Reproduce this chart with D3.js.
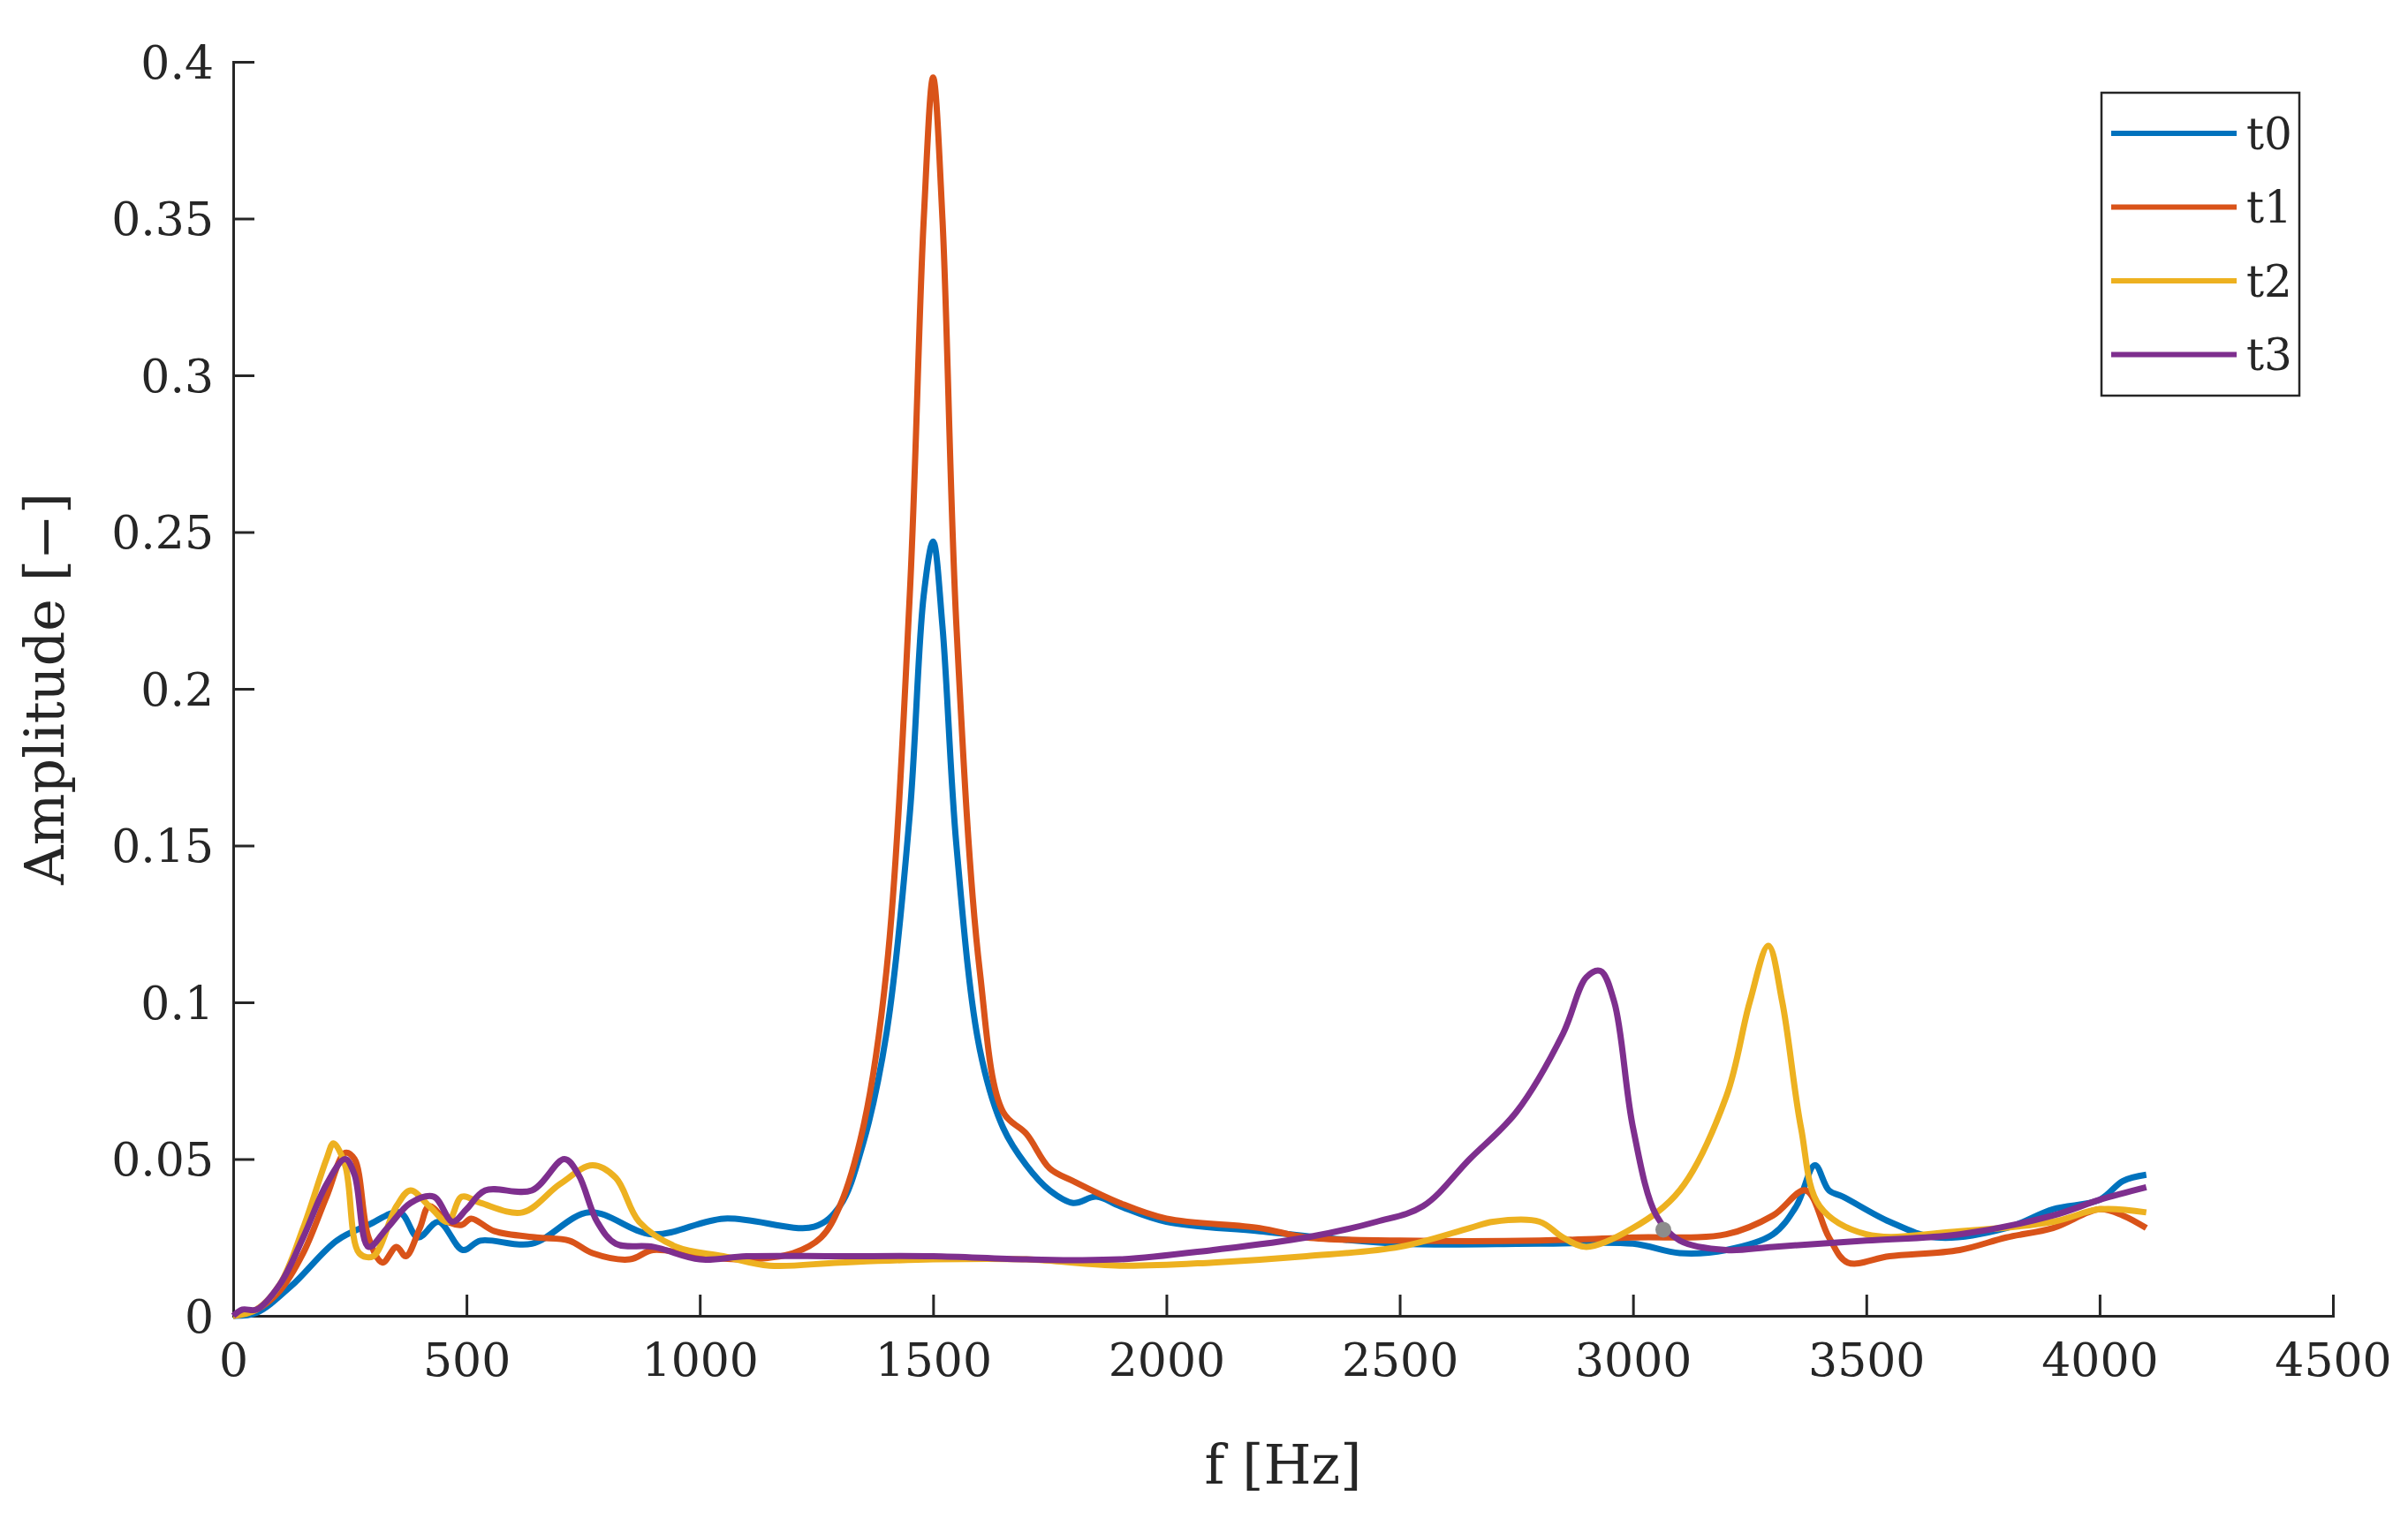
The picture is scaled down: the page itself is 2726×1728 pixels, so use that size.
<!DOCTYPE html>
<html>
<head>
<meta charset="utf-8">
<script src="https://cdn.jsdelivr.net/npm/d3@7"></script>
<style>
  body { margin: 0; background: #fff; }
  text { font-family: "DejaVu Serif", "Liberation Serif", serif; fill: #262626; }
</style>
</head>
<body>
<div id="chart"></div>
<script>
// series data: [frequency Hz, amplitude]
var t0 = [[0,0],[50,0.001],[125,0.0096],[222,0.024],[290,0.029],[357,0.033],[396,0.025],[440,0.03],[492,0.021],[530,0.024],[640,0.023],[763,0.033],[898,0.026],[1052,0.031],[1245,0.0284],
  [1300,0.035],[1350,0.055],[1400,0.09],[1450,0.16],[1480,0.23],[1500,0.247],[1520,0.22],[1550,0.15],[1600,0.085],[1650,0.06],[1700,0.048],[1750,0.04],[1800,0.036],[1850,0.038],[1900,0.035],
  [2000,0.03],[2200,0.027],[2500,0.023],[2800,0.023],[3000,0.023],[3100,0.02],[3200,0.021],[3300,0.026],[3350,0.035],[3390,0.048],[3420,0.04],[3450,0.038],[3550,0.03],[3650,0.025],[3800,0.028],[3900,0.034],[4000,0.037],[4050,0.043],[4100,0.045]];
var t1 = [[0,0],[50,0.002],[100,0.008],[150,0.02],[200,0.038],[240,0.052],[260,0.05],[290,0.025],[320,0.017],[350,0.022],[370,0.019],[400,0.028],[420,0.035],[460,0.03],[490,0.029],[510,0.031],[560,0.027],[650,0.025],[720,0.024],[770,0.02],[850,0.018],[900,0.021],[1000,0.019],[1100,0.018],[1200,0.02],[1260,0.025],
  [1300,0.035],[1350,0.06],[1400,0.11],[1450,0.23],[1480,0.35],[1500,0.395],[1520,0.35],[1550,0.22],[1600,0.11],[1650,0.065],[1700,0.058],[1750,0.047],[1800,0.043],[1900,0.036],[2000,0.031],[2200,0.028],[2300,0.025],[2500,0.024],[2800,0.024],[3000,0.025],[3200,0.026],[3300,0.032],[3370,0.04],[3420,0.025],[3460,0.017],[3550,0.019],[3700,0.021],[3800,0.025],[3900,0.028],[4000,0.034],[4050,0.032],[4100,0.028]];
var t2 = [[0,0],[50,0.002],[100,0.01],[150,0.028],[200,0.05],[215,0.055],[240,0.048],[270,0.02],[300,0.019],[350,0.035],[380,0.04],[420,0.035],[460,0.03],[490,0.038],[530,0.036],[620,0.033],[700,0.042],[770,0.048],[820,0.044],[870,0.03],[950,0.022],[1050,0.019],[1150,0.016],[1300,0.017],[1500,0.018],[1700,0.018],[1900,0.016],[2100,0.017],[2300,0.019],[2500,0.022],[2650,0.028],[2700,0.03],[2800,0.03],[2850,0.025],[2900,0.022],
  [3000,0.028],[3100,0.04],[3200,0.07],[3250,0.1],[3290,0.118],[3320,0.1],[3360,0.06],[3400,0.035],[3500,0.026],[3700,0.027],[3900,0.03],[4000,0.034],[4100,0.033]];
var t3 = [[0,0],[20,0.002],[50,0.002],[100,0.01],[150,0.025],[200,0.042],[240,0.05],[260,0.045],[290,0.022],[330,0.028],[380,0.036],[430,0.038],[470,0.03],[500,0.034],[540,0.04],[640,0.04],[710,0.05],[740,0.045],[780,0.03],[820,0.023],[900,0.022],[1000,0.018],[1100,0.019],[1300,0.019],[1500,0.019],[1700,0.018],[1900,0.018],[2100,0.021],[2300,0.025],[2450,0.03],[2550,0.035],
  [2650,0.05],[2750,0.065],[2850,0.09],[2900,0.108],[2930,0.11],[2960,0.1],[3000,0.06],[3050,0.032],[3100,0.024],[3200,0.021],[3300,0.022],[3500,0.024],[3700,0.026],[3900,0.032],[4000,0.037],[4100,0.041]];
var marker = [[3065, 0.0275]];

var names = ["t0", "t1", "t2", "t3"];
var colors = ["#0072BD", "#D95319", "#EDB120", "#7E2F8E"];
var xTicks = [0, 500, 1000, 1500, 2000, 2500, 3000, 3500, 4000, 4500];
var yTicks = [0, 0.05, 0.1, 0.15, 0.2, 0.25, 0.3, 0.35, 0.4];

var width = 2726, height = 1728;
var svg = d3.select("#chart").append("svg")
    .attr("width", width).attr("height", height);

var x = d3.scaleLinear().domain([0, 4500]).range([264, 2641]);
var y = d3.scaleLinear().domain([0, 0.4]).range([1490, 70]);

// axes (ticks inward, like MATLAB)
var xAxis = svg.append("g")
    .attr("transform", "translate(0," + y(0) + ")")
    .call(d3.axisTop(x).tickValues(xTicks).tickSize(24).tickFormat(d3.format("d")));
xAxis.selectAll("text").remove();
xAxis.selectAll("g.tick").append("text")
    .attr("y", 68).attr("text-anchor", "middle")
    .style("font-size", "52px")
    .text(function (d) { return d; });

var yAxis = svg.append("g")
    .attr("transform", "translate(" + x(0) + ",0)")
    .call(d3.axisRight(y).tickValues(yTicks).tickSize(24));
yAxis.selectAll("text").remove();
yAxis.selectAll("g.tick").append("text")
    .attr("x", -22).attr("dy", "0.35em").attr("text-anchor", "end")
    .style("font-size", "52px")
    .text(function (d) { return d === 0 ? "0" : String(d); });

svg.selectAll(".domain, .tick line")
    .attr("stroke", "#262626").attr("stroke-width", 3);

// axis titles
svg.append("text")
    .attr("x", (x(0) + x(4500)) / 2).attr("y", 1680)
    .attr("text-anchor", "middle").style("font-size", "62px")
    .text("f [Hz]");
svg.append("text")
    .attr("transform", "translate(72," + (y(0.2)) + ") rotate(-90)")
    .attr("text-anchor", "middle").style("font-size", "62px")
    .text("Amplitude [\u2212]");

// lines
var line = d3.line()
    .x(function (d) { return x(d[0]); })
    .y(function (d) { return y(d[1]); })
    .curve(d3.curveCatmullRom.alpha(0.5));

[t0, t1, t2, t3].forEach(function (s, i) {
    svg.append("path")
        .datum(s)
        .attr("fill", "none")
        .attr("stroke", colors[i])
        .attr("stroke-width", 7)
        .attr("stroke-linejoin", "round")
        .attr("d", line);
});

svg.selectAll("circle.mark")
    .data(marker).enter().append("circle")
    .attr("cx", function (d) { return x(d[0]); })
    .attr("cy", function (d) { return y(d[1]); })
    .attr("r", 9).attr("fill", "#8c8c8c");

// legend
var legend = svg.append("g");
legend.append("rect")
    .attr("x", 2379).attr("y", 105).attr("width", 224).attr("height", 343)
    .attr("fill", "#fff").attr("stroke", "#262626").attr("stroke-width", 2.5);
names.forEach(function (n, i) {
    var ly = 151 + i * 83.5;
    legend.append("line")
        .attr("x1", 2390).attr("x2", 2532).attr("y1", ly).attr("y2", ly)
        .attr("stroke", colors[i]).attr("stroke-width", 6);
    legend.append("text")
        .attr("x", 2543).attr("y", ly).attr("dy", "0.35em")
        .style("font-size", "50px").text(n);
});
</script>
</body>
</html>
